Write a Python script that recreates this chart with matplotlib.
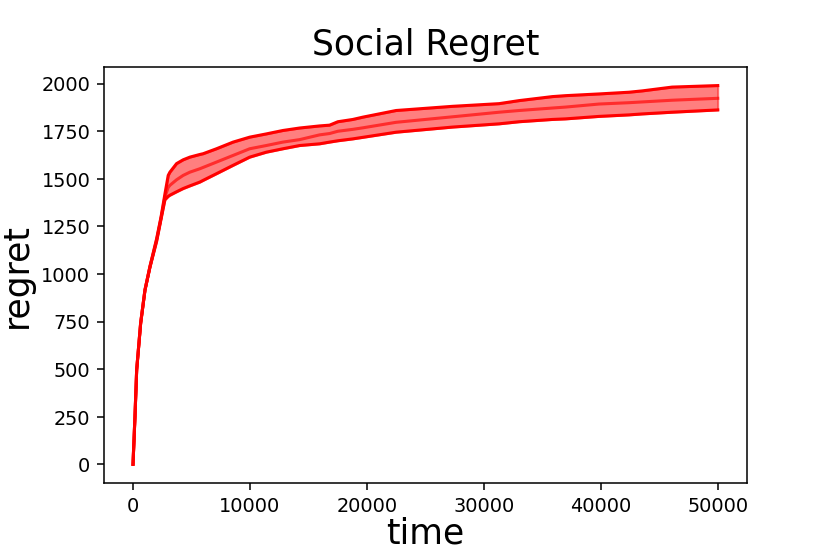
import numpy as np
import matplotlib.pyplot as plt

# time steps
t = [0, 170, 315, 655, 1024, 1450, 2020, 2400, 2730, 3012, 3157, 3727, 4290,
     4863, 5717, 6000, 7140, 8560, 9980, 11400, 12820, 14250, 15960, 16810,
     17520, 18800, 19650, 22500, 27340, 31310, 33020, 35860, 36990, 39850,
     42410, 43540, 46100, 50000]

upper = [0, 253, 497, 742, 916, 1040, 1185, 1300, 1420, 1518, 1535, 1580, 1600,
         1614, 1628, 1632, 1658, 1693, 1719, 1736, 1754, 1767, 1778, 1782,
         1800, 1812, 1824, 1859, 1881, 1895, 1911, 1932, 1937, 1946,
         1955, 1962, 1982, 1990]

lower = [0, 253, 497, 742, 916, 1036, 1172, 1290, 1390, 1408, 1414, 1432, 1449,
         1463, 1483, 1492, 1527, 1571, 1614, 1640, 1658, 1675, 1684, 1693,
         1700, 1710, 1718, 1745, 1772, 1789, 1800, 1812, 1815, 1828,
         1836, 1841, 1850, 1862]

mean = [0, 253, 497, 742, 916, 1038, 1179, 1295, 1405, 1455, 1466, 1495, 1518,
        1535, 1553, 1560, 1588, 1623, 1658, 1675, 1693, 1706, 1731, 1738,
        1750, 1760, 1768, 1797, 1826, 1850, 1859, 1872, 1877, 1893,
        1900, 1904, 1913, 1923]

fig = plt.figure(figsize=(6, 4), dpi=138.33)
ax = fig.add_axes([0.125, 0.126, 0.775, 0.753])

ax.fill_between(t, lower, upper, color='red', alpha=0.5)
ax.plot(t, upper, color='red', lw=1.6)
ax.plot(t, lower, color='red', lw=1.6)
ax.plot(t, mean, color='red', lw=1.6, alpha=0.65)

ax.set_title('Social Regret', fontsize=18)
ax.set_xlabel('time', fontsize=18, labelpad=0)
ax.set_ylabel('regret', fontsize=18)

fig.savefig('out.png', dpi=138.33)
